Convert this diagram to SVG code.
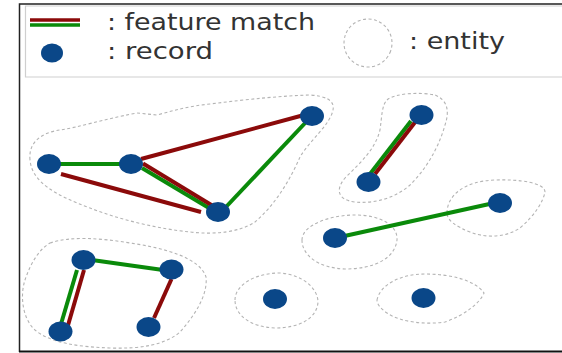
<svg xmlns="http://www.w3.org/2000/svg" width="562" height="353" viewBox="0 0 562 353">
<style>
.ent{fill:none;stroke:#b4b4b4;stroke-width:1.1;stroke-dasharray:3 2.5}
.rec{fill:#0a4788}
.red{stroke:#8b0a0a;stroke-width:4;stroke-linecap:butt}
.grn{stroke:#0a8a0a;stroke-width:4;stroke-linecap:butt}
.lbl{font-family:"DejaVu Sans",Verdana,sans-serif;font-size:23px;fill:#333}
</style>
<rect width="562" height="353" fill="#fff"/>
<g id="frame">
<path d="M19.5,352 V4 H562" fill="none" stroke="#222" stroke-width="1.5"/>
<line x1="19" y1="351.5" x2="562" y2="351.5" stroke="#111" stroke-width="1.8"/>
<path d="M562,6 H25.5 V77 H562" fill="none" stroke="#cfcfcf" stroke-width="1.2"/>
</g>
<g id="legend">
<line class="red" x1="30" y1="20" x2="80" y2="20" style="stroke-width:3.5"/>
<line class="grn" x1="30" y1="25" x2="80" y2="25" style="stroke-width:3.5"/>
<ellipse class="rec" cx="52" cy="53" rx="11" ry="9.5"/>
<ellipse class="ent" cx="368" cy="43" rx="24" ry="24" transform="rotate(20 368 43)"/>
<text class="lbl" x="107" y="30" textLength="208" lengthAdjust="spacingAndGlyphs">: feature match</text>
<text class="lbl" x="107" y="59" textLength="106" lengthAdjust="spacingAndGlyphs">: record</text>
<text class="lbl" x="409" y="49" textLength="96" lengthAdjust="spacingAndGlyphs">: entity</text>
</g>
<g id="entities">
<path id="entity1" class="ent" d="M30,160 C28,140 45,132 60,130 C80,127 100,120 137,113 L157,115 C175,110 190,106 210,104 C250,99 280,96 310,95 C325,96 335,100 333,110 C330,125 310,140 300,157 C290,180 275,205 255,222 C240,232 215,235 190,232 C160,229 120,220 90,208 C55,195 32,182 30,160 Z"/>
<path id="entity2" class="ent" d="M387,100 C395,93 420,92 435,95 C447,100 450,110 445,125 C438,150 425,170 410,185 C395,198 375,204 355,202 C338,200 335,190 345,178 C360,163 375,150 380,130 C382,115 382,105 387,100 Z"/>
<path id="entity3" class="ent" d="M302,240 C302,225 330,215 355,215 C380,215 398,225 397,240 C395,258 375,269 345,269 C318,268 302,255 302,240 Z"/>
<path id="entity4" class="ent" d="M447,213 C447,195 465,181 495,180 C520,179 545,183 545,192 C543,202 535,215 520,228 C505,238 485,238 470,232 C455,226 447,220 447,213 Z"/>
<path id="entity5" class="ent" d="M50,243 C70,236 100,238 130,243 C165,248 200,258 206,277 C208,295 195,315 180,332 C165,345 140,349 110,348 C80,347 50,343 35,330 C22,318 20,295 25,280 C30,265 38,250 50,243 Z"/>
<path id="entity6" class="ent" d="M235,300 C235,285 255,273 280,273 C305,275 318,290 318,302 C317,318 300,328 275,328 C250,327 235,315 235,300 Z"/>
<path id="entity7" class="ent" d="M377,300 C380,285 400,274 425,274 C450,274 475,280 484,293 C480,303 465,315 445,322 C425,325 400,322 387,313 C380,308 377,304 377,300 Z"/>
</g>
<g id="connectors">
<line class="grn" x1="55" y1="164" x2="125" y2="164"/>
<line class="red" x1="61" y1="174" x2="201" y2="212"/>
<line class="red" x1="141" y1="159" x2="304" y2="115"/>
<line class="grn" x1="142" y1="168" x2="209" y2="208"/>
<line class="red" x1="143" y1="163.5" x2="213" y2="206"/>
<line class="grn" x1="225" y1="208" x2="307" y2="121"/>
<line class="grn" x1="370" y1="174" x2="411" y2="121"/>
<line class="red" x1="375" y1="174" x2="416" y2="121"/>
<line class="grn" x1="340" y1="237" x2="494" y2="203"/>
<line class="grn" x1="92" y1="260" x2="163" y2="270"/>
<line class="grn" x1="77" y1="270" x2="61" y2="324"/>
<line class="red" x1="84" y1="270" x2="67.5" y2="327"/>
<line class="red" x1="171.5" y1="279" x2="154" y2="318"/>
</g>
<g id="records">
<g id="nA"><ellipse class="rec" cx="49" cy="164" rx="12" ry="10"/></g>
<g id="nB"><ellipse class="rec" cx="131" cy="164" rx="12" ry="10"/></g>
<g id="nC"><ellipse class="rec" cx="218" cy="212" rx="12" ry="10"/></g>
<g id="nD"><ellipse class="rec" cx="312" cy="116" rx="12" ry="10"/></g>
<g id="nE"><ellipse class="rec" cx="421.5" cy="115" rx="12" ry="10"/></g>
<g id="nF"><ellipse class="rec" cx="368.5" cy="182" rx="12" ry="10"/></g>
<g id="nG"><ellipse class="rec" cx="335" cy="238" rx="12" ry="10"/></g>
<g id="nH"><ellipse class="rec" cx="500" cy="203" rx="12" ry="10"/></g>
<g id="nI"><ellipse class="rec" cx="83.5" cy="260" rx="12" ry="10"/></g>
<g id="nJ"><ellipse class="rec" cx="171.5" cy="269.5" rx="12" ry="10"/></g>
<g id="nK"><ellipse class="rec" cx="60.5" cy="331.5" rx="12" ry="10"/></g>
<g id="nL"><ellipse class="rec" cx="148.5" cy="327" rx="12" ry="10"/></g>
<g id="nM"><ellipse class="rec" cx="275" cy="299" rx="12" ry="10"/></g>
<g id="nN"><ellipse class="rec" cx="423.5" cy="298" rx="12" ry="10"/></g>
</g>
</svg>
